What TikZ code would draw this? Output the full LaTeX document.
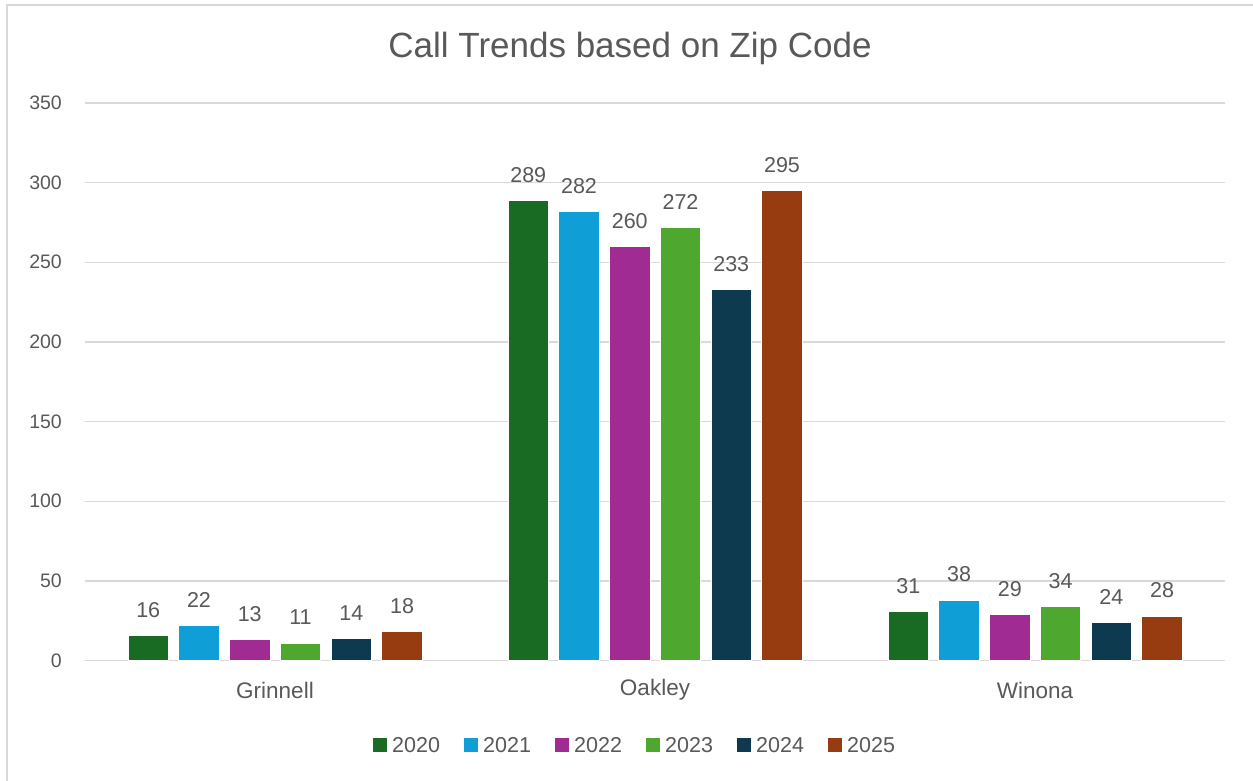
\documentclass[tikz,border=0pt]{standalone}
\usepackage{fontspec}
\setmainfont{Liberation Sans}
\definecolor{txt}{HTML}{595959}
\definecolor{grid}{HTML}{D9D9D9}
\definecolor{frame}{HTML}{D9D9D9}
\definecolor{cA}{HTML}{196B24}
\definecolor{cB}{HTML}{0F9ED5}
\definecolor{cC}{HTML}{A02B93}
\definecolor{cD}{HTML}{4EA72E}
\definecolor{cE}{HTML}{0E3A50}
\definecolor{cF}{HTML}{963C10}
\begin{document}
\begin{tikzpicture}[x=1pt,y=-1pt,
  gridline/.style={draw=grid,line width=1.3pt},
  ticklab/.style={anchor=east,text=txt,font=\fontsize{19.5}{19.5}\selectfont,inner sep=0pt},
  catlab/.style={anchor=center,text=txt,font=\fontsize{22.5}{22.5}\selectfont,inner sep=0pt},
  vallab/.style={anchor=base,text=txt,font=\fontsize{21.5}{21.5}\selectfont,inner sep=0pt},
  barbox/.style={draw=white,line width=0.8pt},
  legbox/.style={minimum width=13.5pt,minimum height=13.5pt,inner sep=0pt,anchor=west},
  leglab/.style={anchor=west,text=txt,font=\fontsize{21.5}{21.5}\selectfont,inner sep=0pt}]
\useasboundingbox (0,0) rectangle (1253,780);
\fill[white] (0,0) rectangle (1253,780);
\draw[frame,line width=1.3pt] (7,790) -- (7,5) -- (1260,5);
\node[text=txt,font=\fontsize{35}{35}\selectfont,inner sep=0pt] (title) at (630,48) {Call Trends based on Zip Code};
% grid
\foreach \v in {0,50,...,350}{
  \pgfmathsetmacro{\yy}{660.5-\v*1.5929}
  \draw[gridline] (85,\yy) -- (1225,\yy);
  \node[ticklab] (t\v) at (62,\yy) {\v};
}
% bars
\def\cols{{"cA","cB","cC","cD","cE","cF"}}
\foreach \c/\vals in {0/{16,22,13,11,14,18},1/{289,282,260,272,233,295},2/{31,38,29,34,24,28}}{
  \foreach \val [count=\i from 0] in \vals {
    \pgfmathsetmacro{\xc}{148.25+380*\c+50.75*\i}
    \pgfmathsetmacro{\yt}{660.5-\val*1.5929}
    \pgfmathparse{\cols[\i]}\let\col\pgfmathresult
    \filldraw[barbox,fill=\col] (\xc-20.25,660.5) rectangle (\xc+20.25,\yt);
    \node[vallab] (v\c-\i) at (\xc,\yt-18) {\val};
  }
}
\node[catlab] (g) at (275,690) {Grinnell};
\node[catlab] (o) at (655,690) {Oakley};
\node[catlab] (w) at (1035,690) {Winona};
% legend
\foreach \yr/\col [count=\i from 0] in {2020/cA,2021/cB,2022/cC,2023/cD,2024/cE,2025/cF}{
  \pgfmathsetmacro{\lx}{373+91*\i}
  \node[legbox,fill=\col] (lb\i) at (\lx,745) {};
  \node[leglab] (ll\i) at (\lx+19,745) {\yr};
}
\end{tikzpicture}
\end{document}
